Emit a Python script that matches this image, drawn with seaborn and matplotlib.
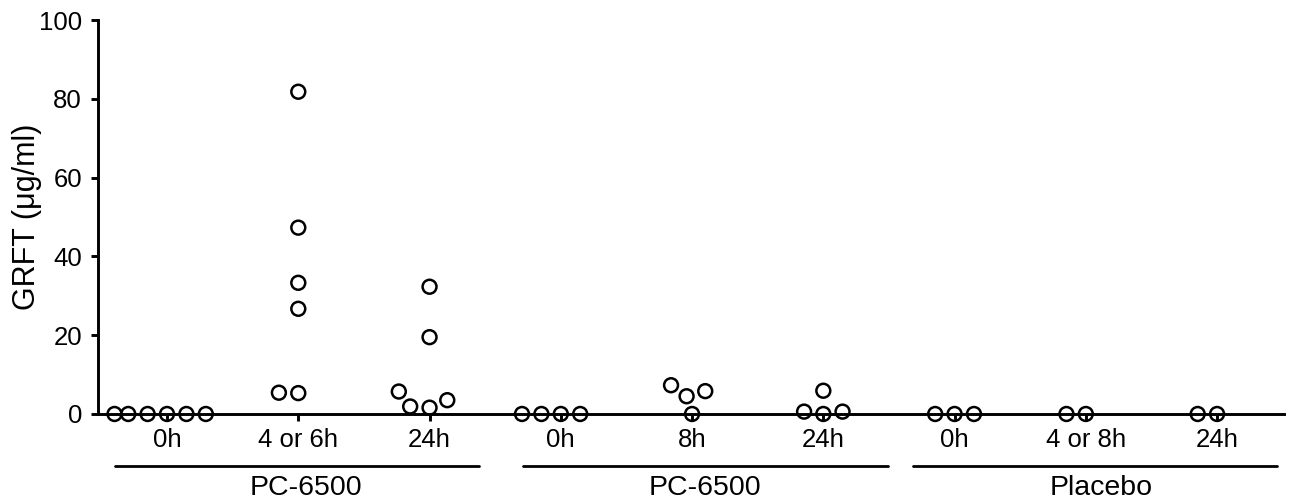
import numpy as np
import pandas as pd
import matplotlib
matplotlib.use("Agg")
import matplotlib.pyplot as plt
import seaborn as sns
from matplotlib.path import Path
from matplotlib.markers import MarkerStyle

# data (GRFT, ug/ml)
group_names = ["PC-6500", "PC-6500", "Placebo"]
tick_labels = ["0h", "4 or 6h", "24h", "0h", "8h", "24h", "0h", "4 or 8h", "24h"]

g1_0h = [0, 0, 0, 0, 0, 0]
g1_4or6h = [81.8, 47.3, 33.3, 26.7, 5.3, 5.4]
g1_24h = [32.3, 19.5, 3.5, 1.6, 1.9, 5.7]
g2_0h = [0, 0, 0, 0]
g2_8h = [7.3, 5.8, 4.5, 0]
g2_24h = [0.6, 0, 0.6, 5.9]
g3_0h = [0, 0, 0]
g3_4or8h = [0, 0]
g3_24h = [0, 0]

series = [g1_0h, g1_4or6h, g1_24h, g2_0h, g2_8h, g2_24h, g3_0h, g3_4or8h, g3_24h]

rows = []
for i, vals in enumerate(series):
    for v in vals:
        rows.append({"cond": str(i), "GRFT": v})
df = pd.DataFrame(rows)
order = [str(i) for i in range(len(series))]

sns.set_style("ticks")
plt.rcParams["font.family"] = ["Liberation Sans", "DejaVu Sans"]
plt.rcParams["font.size"] = 18
plt.rcParams["text.color"] = "black"
plt.rcParams["axes.labelcolor"] = "black"

fig = plt.figure(figsize=(12.91, 5.01), dpi=100)
ax = fig.add_axes([0.0759, 0.1737, 0.9187, 0.7863])

# open circle with an invisible anchor point so the swarm leaves gaps
circ = Path.unit_circle()
ring = Path(np.vstack([[1.15, 0], circ.vertices]),
            np.concatenate([[Path.MOVETO], circ.codes]))

sns.swarmplot(data=df, x="cond", y="GRFT", order=order, ax=ax,
              marker=MarkerStyle(ring), size=11.5, color="black",
              facecolors="none", edgecolor="black", linewidth=1.8,
              clip_on=False, warn_thresh=1)

ax.set_ylim(0, 100)
ax.set_yticks([0, 20, 40, 60, 80, 100])
ax.set_xlim(-0.526, 8.51)
ax.set_xticks(range(len(tick_labels)))
ax.set_xticklabels(tick_labels)
ax.set_xlabel("")
ax.set_ylabel("GRFT (\u03bcg/ml)", fontsize=22, color="black")
ax.yaxis.set_label_coords(-0.047, 0.5)

for side in ["top", "right"]:
    ax.spines[side].set_visible(False)
for side in ["left", "bottom"]:
    ax.spines[side].set_linewidth(2.1)
    ax.spines[side].set_color("black")
ax.tick_params(axis="both", width=2.1, length=5, color="black",
               labelsize=18.5, labelcolor="black")
ax.tick_params(axis="y", pad=6.5)
ax.tick_params(axis="x", pad=5)

# group brackets under the time labels
trans = ax.get_xaxis_transform()
spans = [(-0.40, 2.38), (2.71, 5.49), (5.68, 8.46)]
label_x = [1.06, 4.10, 7.12]
for name, (x0, x1), lx in zip(group_names, spans, label_x):
    ax.plot([x0, x1], [-0.132, -0.132], color="black", lw=2,
            transform=trans, clip_on=False)
    ax.text(lx, -0.205, name, transform=trans, ha="center",
            va="baseline", fontsize=20.5, color="black")

fig.savefig("out.png", dpi=100)
